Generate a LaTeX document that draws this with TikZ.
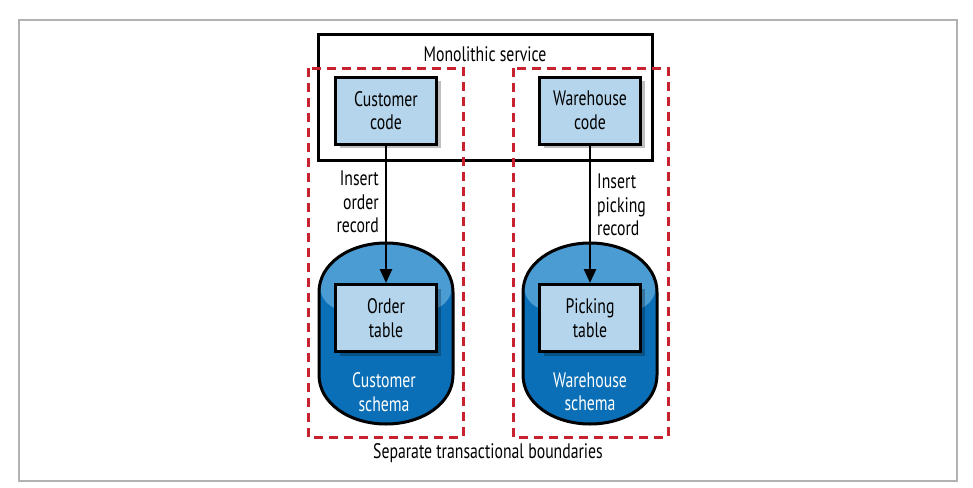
\documentclass[tikz,border=0pt]{standalone}
\usepackage{fontspec}
\setmainfont[FakeStretch=0.75]{PT Sans}
\usetikzlibrary{arrows.meta,shadows}
\definecolor{boxblue}{HTML}{B5D5EC}
\definecolor{dbblue}{HTML}{0A6FB6}
\definecolor{dbhigh}{HTML}{4A9CD2}
\definecolor{boundred}{HTML}{C8222E}
\tikzset{
  codebox/.style={draw, line width=3pt, fill=boxblue, minimum width=101pt,
    minimum height=67pt, align=center, inner sep=0pt,
    drop shadow={shadow xshift=4pt, shadow yshift=-4pt, opacity=0.25, fill=black}},
  boundary/.style={draw=boundred, line width=3pt, dash pattern=on 9pt off 6pt},
  lbl/.style={inner sep=0pt},
  flow/.style={line width=2.5pt, -{Triangle[length=14pt,width=12pt]}},
}
% one schema drum, centred at x = #1
\newcommand\schemadrum[1]{%
  \begin{scope}
    \clip ({#1-67},292) .. controls ({#1-67},264) and ({#1-37},243) .. ({#1},243)
      .. controls ({#1+37},243) and ({#1+67},264) .. ({#1+67},292) -- ({#1+67},375)
      .. controls ({#1+67},403) and ({#1+37},424) .. ({#1},424)
      .. controls ({#1-37},424) and ({#1-67},403) .. ({#1-67},375) -- cycle;
    \fill[dbblue] ({#1-70},240) rectangle ({#1+70},430);
    \fill[dbhigh, rounded corners=24pt] ({#1-66},230) rectangle ({#1+66},310);
  \end{scope}
  \draw[line width=3pt] ({#1-67},292) .. controls ({#1-67},264) and ({#1-37},243) .. ({#1},243)
    .. controls ({#1+37},243) and ({#1+67},264) .. ({#1+67},292) -- ({#1+67},375)
    .. controls ({#1+67},403) and ({#1+37},424) .. ({#1},424)
    .. controls ({#1-37},424) and ({#1-67},403) .. ({#1-67},375) -- cycle;
}
\begin{document}
\begin{tikzpicture}[x=1pt, y=-1pt, font=\fontsize{21}{23.5}\selectfont]
  \useasboundingbox (0,0) rectangle (973,487);
  \draw[gray!60, line width=1.5pt] (19,20) rectangle (957,481);

  % monolith
  \draw[line width=3pt] (318,35) rectangle (652,160);
  \node[lbl] (mono) at (485,54) {Monolithic service};

  % schemas
  \schemadrum{386}
  \schemadrum{590}
  \node[lbl, text=white, align=center] (custschema) at (384,392) {Customer\\schema};
  \node[lbl, text=white, align=center] (wareschema) at (590,392) {Warehouse\\schema};

  % code and tables
  \node[codebox] (cust) at (386,110.5) {Customer\\code};
  \node[codebox] (ware) at (590,110.5) {Warehouse\\code};
  \node[codebox] (order) at (386,318) {Order\\table};
  \node[codebox] (pick) at (590,318) {Picking\\table};

  \draw[flow] (cust) -- (order);
  \draw[flow] (ware) -- (pick);
  \node[lbl, anchor=east, align=right] (orderlbl) at (379,202) {Insert\\order\\record};
  \node[lbl, anchor=west, align=left] (picklbl) at (597,205) {Insert\\picking\\record};

  % transaction boundaries
  \draw[boundary] (308,68) rectangle (463,437);
  \draw[boundary] (513,68) rectangle (668,437);
  \node[lbl] (sep) at (488,453) {Separate transactional boundaries};
\end{tikzpicture}
\end{document}
